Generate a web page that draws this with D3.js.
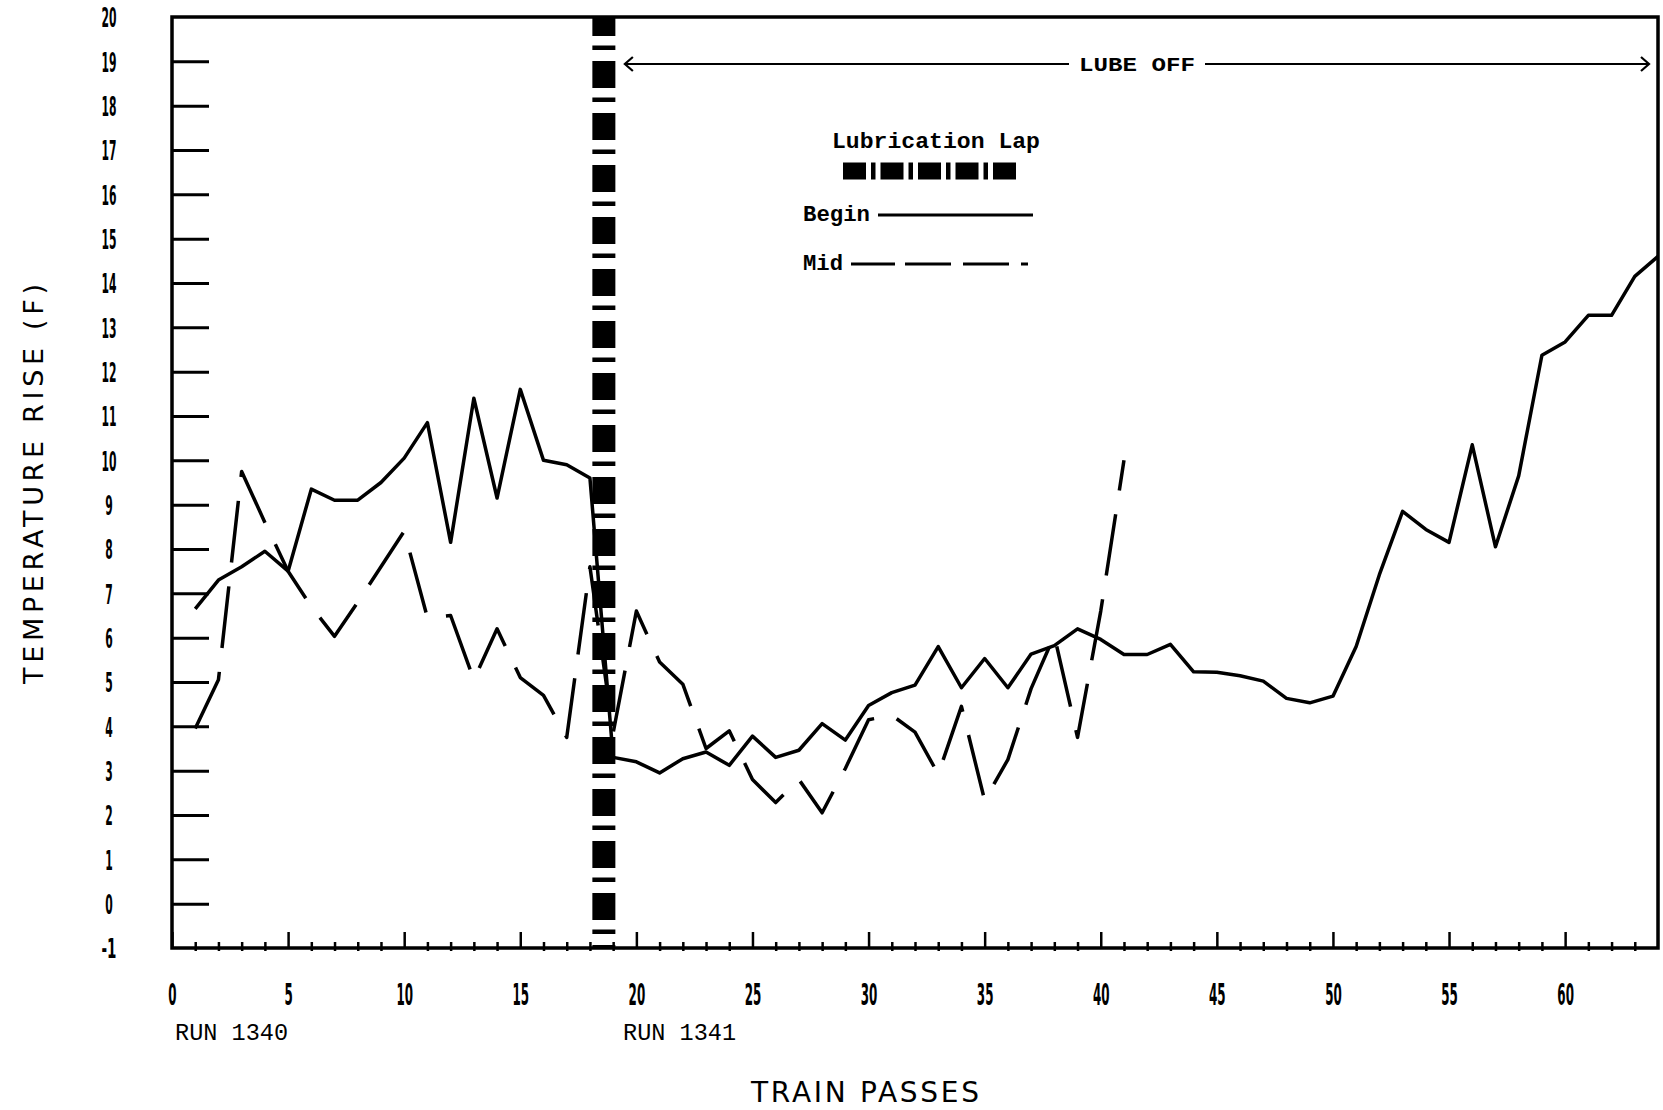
<!DOCTYPE html>
<html>
<head>
<meta charset="utf-8">
<script src="https://cdn.jsdelivr.net/npm/d3@7/dist/d3.min.js"></script>
<style>
  body { margin: 0; background: #fff; }
  svg { display: block; background: #fff; }
</style>
</head>
<body>
<div id="corpo"></div>
<script>
/* dados */
var beginPasses = [1,2,3,4,5,6,7,8,9,10,11,12,13,14,15,16,17,18,19,20,21,22,23,24,25,26,27,28,29,30,31,32,
	33,34,35,36,37,38,39,40,41,42,43,44,45,46,47,48,49,50,51,52,53,54,55,56,57,58,59,60,61,62,63,64];
var beginRise = [6.65,7.3,7.6,7.95,7.5,9.35,9.1,9.1,9.5,10.05,10.85,8.15,11.4,9.15,11.6,10.0,9.9,9.6,
	3.3,3.2,2.95,3.27,3.42,3.12,3.78,3.3,3.46,4.06,3.69,4.47,4.76,4.93,5.8,4.87,5.53,4.87,5.63,5.82,
	6.2,5.96,5.62,5.62,5.85,5.23,5.22,5.14,5.02,4.63,4.53,4.68,5.8,7.42,8.85,8.44,8.15,10.35,8.05,
	9.65,12.37,12.67,13.27,13.27,14.15,14.6];

var midPasses = [1,2,3,4,5,6,7,8,9,10,11,12,13,14,15,16,17,18,19,20,21,22,23,24,25,26,27,28,29,30,31,32,
	33,34,35,36,37,38,39,40,41];
var midRise = [3.95,5.05,9.75,8.6,7.5,6.7,6.03,6.8,7.6,8.4,6.45,6.5,5.05,6.2,5.1,4.7,3.75,7.6,
	3.85,6.6,5.45,4.95,3.5,3.9,2.8,2.28,2.8,2.05,3.05,4.15,4.25,3.87,2.92,4.45,2.33,3.25,4.85,
	6.05,3.75,6.6,10.0];

var yTicks = [-1,0,1,2,3,4,5,6,7,8,9,10,11,12,13,14,15,16,17,18,19,20];
var xTicks = [0,1,2,3,4,5,6,7,8,9,10,11,12,13,14,15,16,17,18,19,20,21,22,23,24,25,26,27,28,29,30,31,
	32,33,34,35,36,37,38,39,40,41,42,43,44,45,46,47,48,49,50,51,52,53,54,55,56,57,58,59,60,61,62,63];
var xLabels = [0,5,10,15,20,25,30,35,40,45,50,55,60];

var lapPass = 18.6;      // volta de lubrificação
var lubeOffLevel = 18.94; // altura da seta LUBE OFF
var runLabels = [["RUN 1340", 0], ["RUN 1341", 19.3]];

var width = 1663, height = 1110;

/* cria svg */
var svg = d3.select("#corpo").append("svg")
	.attr("width", width)
	.attr("height", height);

var x = d3.scaleLinear().domain([0, 64]).range([172, 1658]);
var y = d3.scaleLinear().domain([-1, 20]).range([948, 17]);

var boldNum = "'DejaVu Sans', sans-serif";
var plotter = "'DejaVu Sans', sans-serif";
var mono = "'Liberation Mono', 'DejaVu Sans Mono', monospace";

/*=== volta de lubrificação (barra tracejada grossa) ===*/
svg.append("line")
	.attr("x1", x(lapPass)).attr("x2", x(lapPass))
	.attr("y1", y(20)).attr("y2", y(-1))
	.attr("stroke", "#000")
	.attr("stroke-width", 23)
	.attr("stroke-dasharray", "27,9.5,4.5,11")
	.attr("stroke-dashoffset", 8);

/*=== eixo y ===*/
var yAxis = d3.axisLeft(y)
	.tickValues(yTicks)
	.tickSize(-37)
	.tickPadding(63)
	.tickFormat(function(d){ return d; });

var gy = svg.append("g")
	.attr("transform", "translate(" + x(0) + ",0)")
	.call(yAxis);

gy.select(".domain").remove();
gy.selectAll(".tick line")
	.attr("stroke-width", 3)
	.attr("x2", function(d){ return (d < 0 || d > 19) ? 0 : 37; });
gy.selectAll(".tick text")
	.attr("text-anchor", "middle")
	.attr("dy", "0.36em")
	.attr("font-family", boldNum)
	.attr("font-weight", "bold")
	.attr("font-size", 27)
	.attr("textLength", function(d){ return String(d).length * 7.5; })
	.attr("lengthAdjust", "spacingAndGlyphs");

/*=== eixo x ===*/
var xAxis = d3.axisBottom(x)
	.tickValues(xTicks)
	.tickSize(-16)
	.tickPadding(46)
	.tickFormat(function(d){ return xLabels.indexOf(d) >= 0 ? d : ""; });

var gx = svg.append("g")
	.attr("transform", "translate(0," + y(-1) + ")")
	.call(xAxis);

gx.select(".domain").remove();
gx.selectAll(".tick line")
	.attr("stroke-width", 2.5)
	.attr("y1", function(d){ return d % 5 === 0 ? 0 : 3; })
	.attr("y2", function(d){ return d % 5 === 0 ? -16 : -6; });
gx.selectAll(".tick text")
	.attr("y", 46)
	.attr("dy", "0.36em")
	.attr("font-family", boldNum)
	.attr("font-weight", "bold")
	.attr("font-size", 30)
	.attr("textLength", function(d){ return xLabels.indexOf(d) >= 0 ? String(d).length * 8.3 : null; })
	.attr("lengthAdjust", "spacingAndGlyphs");

/*=== moldura ===*/
svg.append("rect")
	.attr("x", x(0)).attr("y", y(20))
	.attr("width", x(64) - x(0))
	.attr("height", y(-1) - y(20))
	.attr("fill", "none")
	.attr("stroke", "#000")
	.attr("stroke-width", 3.5);

/*=== linhas ===*/
var line = d3.line()
	.x(function(d){ return x(d[0]); })
	.y(function(d){ return y(d[1]); });

svg.append("path")
	.datum(d3.zip(beginPasses, beginRise))
	.attr("d", line)
	.attr("fill", "none")
	.attr("stroke", "#000")
	.attr("stroke-width", 3.5)
	.attr("stroke-linejoin", "round");

svg.append("path")
	.datum(d3.zip(midPasses, midRise))
	.attr("d", line)
	.attr("fill", "none")
	.attr("stroke", "#000")
	.attr("stroke-width", 3.5)
	.attr("stroke-linejoin", "round")
	.attr("stroke-dasharray", "62,24");

/*=== seta LUBE OFF ===*/
var ax0 = x(lapPass) + 21, ax1 = x(64) - 9, ay = y(lubeOffLevel);
svg.append("line")
	.attr("x1", ax0).attr("x2", ax1)
	.attr("y1", ay).attr("y2", ay)
	.attr("stroke", "#000").attr("stroke-width", 2.2);

var lubeText = svg.append("text")
	.attr("x", 1137).attr("y", ay)
	.attr("dy", "0.35em")
	.attr("text-anchor", "middle")
	.attr("font-family", mono)
	.attr("font-weight", "bold")
	.attr("font-size", 21)
	.attr("textLength", 116)
	.attr("lengthAdjust", "spacingAndGlyphs")
	.text("LUBE OFF");

// fundo branco atrás do texto pra cortar a linha
var bb = lubeText.node().getBBox();
svg.insert("rect", function(){ return lubeText.node(); })
	.attr("x", bb.x - 10).attr("y", bb.y)
	.attr("width", bb.width + 20).attr("height", bb.height)
	.attr("fill", "#fff");

svg.append("path")
	.attr("d", "M" + (ax0 + 8) + "," + (ay - 7) + "L" + ax0 + "," + ay + "L" + (ax0 + 8) + "," + (ay + 7))
	.attr("fill", "none").attr("stroke", "#000").attr("stroke-width", 2.2);
svg.append("path")
	.attr("d", "M" + (ax1 - 8) + "," + (ay - 7) + "L" + ax1 + "," + ay + "L" + (ax1 - 8) + "," + (ay + 7))
	.attr("fill", "none").attr("stroke", "#000").attr("stroke-width", 2.2);

/*=== legenda ===*/
svg.append("text")
	.attr("x", 832).attr("y", 148)
	.attr("font-family", mono)
	.attr("font-weight", "bold")
	.attr("font-size", 22)
	.attr("textLength", 208)
	.attr("lengthAdjust", "spacingAndGlyphs")
	.text("Lubrication Lap");

svg.append("line")
	.attr("x1", 843).attr("x2", 1017)
	.attr("y1", 171).attr("y2", 171)
	.attr("stroke", "#000")
	.attr("stroke-width", 17)
	.attr("stroke-dasharray", "23,5,4.5,5");

svg.append("text")
	.attr("x", 803).attr("y", 221)
	.attr("font-family", mono)
	.attr("font-weight", "bold")
	.attr("font-size", 22)
	.attr("textLength", 67)
	.attr("lengthAdjust", "spacingAndGlyphs")
	.text("Begin");

svg.append("line")
	.attr("x1", 878).attr("x2", 1033)
	.attr("y1", 215).attr("y2", 215)
	.attr("stroke", "#000").attr("stroke-width", 3.2);

svg.append("text")
	.attr("x", 803).attr("y", 270)
	.attr("font-family", mono)
	.attr("font-weight", "bold")
	.attr("font-size", 22)
	.attr("textLength", 40)
	.attr("lengthAdjust", "spacingAndGlyphs")
	.text("Mid");

svg.append("line")
	.attr("x1", 851).attr("x2", 1033)
	.attr("y1", 264).attr("y2", 264)
	.attr("stroke", "#000").attr("stroke-width", 3.2)
	.attr("stroke-dasharray", "44,10,46,12,46,12,7,200");

/*=== títulos e rótulos ===*/
svg.selectAll(".run")
	.data(runLabels)
	.enter().append("text")
	.attr("class", "run")
	.attr("x", function(d){ return x(d[1]) + 3; })
	.attr("y", 1040)
	.attr("font-family", mono)
	.attr("font-size", 24)
	.attr("textLength", 113)
	.attr("lengthAdjust", "spacingAndGlyphs")
	.text(function(d){ return d[0]; });

svg.append("text")
	.attr("x", 865).attr("y", 1102)
	.attr("text-anchor", "middle")
	.attr("font-family", plotter)
	.attr("font-size", 28)
	.attr("textLength", 228)
	.attr("lengthAdjust", "spacing")
	.text("TRAIN PASSES");

svg.append("text")
	.attr("transform", "translate(43,484) rotate(-90)")
	.attr("text-anchor", "middle")
	.attr("font-family", plotter)
	.attr("font-size", 27)
	.attr("textLength", 400)
	.attr("lengthAdjust", "spacing")
	.text("TEMPERATURE RISE (F)");
</script>
</body>
</html>
